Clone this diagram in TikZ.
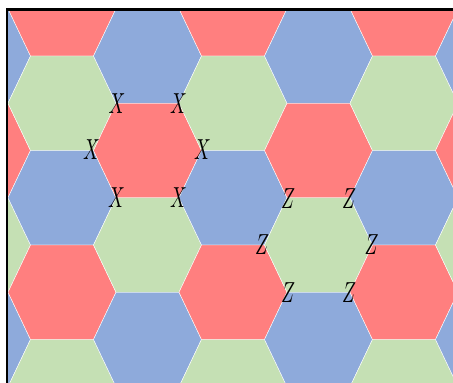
\documentclass[tikz,border=0pt]{standalone}
\usepackage{graphicx}
\usepackage{xcolor}
\definecolor{cRed}{HTML}{FF7F7F}
\definecolor{cGreen}{HTML}{C5E0B4}
\definecolor{cBlue}{HTML}{8EAADB}
\usetikzlibrary{calc}
\newcommand{\hexlbl}[1]{\scalebox{1.85}[2.9]{$#1$}}
\tikzset{
  hex-cell/.style={draw=white,line width=0.4pt},
  hex-label/.style={inner sep=0pt},
  frame-line/.style={line width=2.5pt,draw=black},
}

\begin{document}
\begin{tikzpicture}[x=1pt,y=-1pt]
  \useasboundingbox (0,0) rectangle (453,383);
  \begin{scope}
    \clip (7,9.5) rectangle (453,383);
    \foreach \i in {-1,...,5}{
      \foreach \k in {-1,...,4}{
        \pgfmathsetmacro{\cx}{62+85.5*\i}
        \pgfmathsetmacro{\cy}{8.75+47.25*mod(\i+2,2)+94.5*\k}
        \pgfmathtruncatemacro{\ci}{mod(\k+3+2*mod(\i+2,2),3)}
        \ifcase\ci \def\hexcol{cRed}\or \def\hexcol{cGreen}\or \def\hexcol{cBlue}\fi
        \filldraw[hex-cell,fill=\hexcol] (\cx-54,\cy) -- ++(22.5,-47.25)
          -- ++(63,0) -- ++(22.5,47.25) -- ++(-22.5,47.25) -- ++(-63,0) -- cycle;
      }
    }
  \end{scope}
  \draw[frame-line] (7,383) -- (7,9.5) -- (453,9.5);
  % X around the red cell, Z around the green one
  \node[hex-label] (x1) at (117,103.5) {\hexlbl{X}};
  \node[hex-label] (x2) at (178.5,103.5) {\hexlbl{X}};
  \node[hex-label] (x3) at (91.5,150) {\hexlbl{X}};
  \node[hex-label] (x4) at (202.5,150) {\hexlbl{X}};
  \node[hex-label] (x5) at (116.5,197.5) {\hexlbl{X}};
  \node[hex-label] (x6) at (178.5,197.5) {\hexlbl{X}};
  \node[hex-label] (z1) at (288,198.5) {\hexlbl{Z}};
  \node[hex-label] (z2) at (349,198.5) {\hexlbl{Z}};
  \node[hex-label] (z3) at (262,245) {\hexlbl{Z}};
  \node[hex-label] (z4) at (371.5,245) {\hexlbl{Z}};
  \node[hex-label] (z5) at (288,293) {\hexlbl{Z}};
  \node[hex-label] (z6) at (349,293) {\hexlbl{Z}};
\end{tikzpicture}
\end{document}
